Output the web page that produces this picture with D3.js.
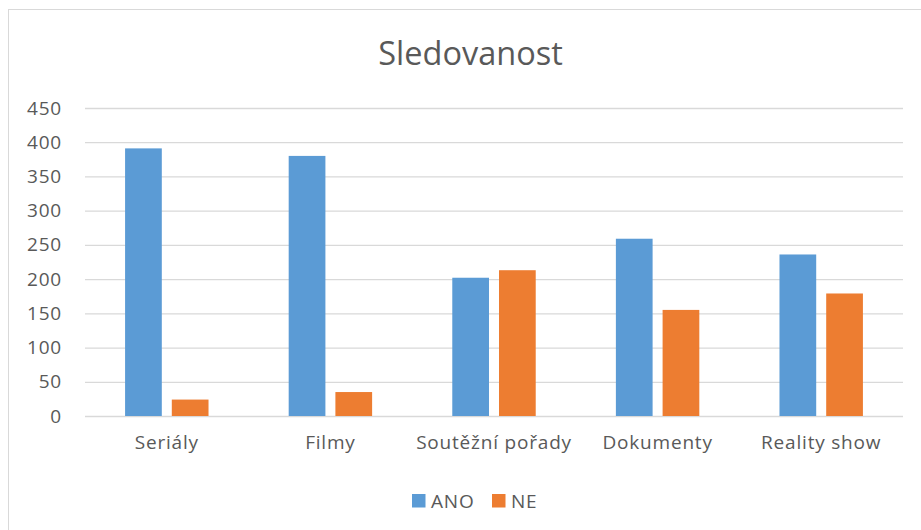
<!DOCTYPE html>
<html lang="cs">
<head>
    <meta charset="UTF-8">
    <title>Sledovanost</title>
    <script src="https://d3js.org/d3.v7.min.js"></script>
    <style>
        body {
            margin: 0;
            background: #fff;
        }

        svg text {
            font-family: "Open Sans", "DejaVu Sans", sans-serif;
            fill: #595959;
        }

        .lbl {
            font-size: 19px;
            letter-spacing: 0.8px;
        }
    </style>
</head>
<body>
    <div id="chart"></div>
    <script>
        const categories = ['Seriály', 'Filmy', 'Soutěžní pořady', 'Dokumenty', 'Reality show'];
        const seriesNames = ['ANO', 'NE'];
        const anoValues = [391, 380, 202, 259, 236];
        const neValues = [24, 35, 213, 155, 179];
        const yTicks = [0, 50, 100, 150, 200, 250, 300, 350, 400, 450];
        const colors = ['#5b9bd5', '#ed7d31'];

        const width = 921;
        const height = 530;
        const plot = { left: 85, right: 903, top: 108, bottom: 416 };

        const svg = d3.select('#chart')
            .append('svg')
            .attr('width', width)
            .attr('height', height);

        // outer chart border
        svg.append('rect')
            .attr('x', 8.5)
            .attr('y', 9.5)
            .attr('width', 930)
            .attr('height', 540)
            .attr('fill', '#fff')
            .attr('stroke', '#d9d9d9')
            .attr('stroke-width', 1);

        svg.append('text')
            .attr('x', 470.5)
            .attr('y', 65)
            .attr('text-anchor', 'middle')
            .style('font-size', '32.5px')
            .text('Sledovanost');

        const x0 = d3.scaleBand()
            .domain(categories)
            .range([plot.left, plot.right])
            .paddingInner(0.49)
            .paddingOuter(0.245);

        const x1 = d3.scaleBand()
            .domain(seriesNames)
            .range([0, x0.bandwidth()])
            .paddingInner(0.214);

        const y = d3.scaleLinear()
            .domain([0, 450])
            .range([plot.bottom, plot.top]);

        // gridlines
        const yAxis = svg.append('g')
            .attr('transform', `translate(${plot.left},0)`)
            .call(d3.axisLeft(y)
                .tickValues(yTicks)
                .tickSize(-(plot.right - plot.left))
                .tickPadding(23)
                .tickFormat(d3.format('d')));

        yAxis.select('.domain').remove();
        yAxis.selectAll('.tick line')
            .attr('stroke', '#d9d9d9')
            .attr('stroke-width', 1.3);
        yAxis.selectAll('.tick text')
            .attr('class', 'lbl')
            .attr('font-size', null)
            .attr('fill', '#595959');

        const data = categories.map((c, i) => ({
            category: c,
            values: [anoValues[i], neValues[i]]
        }));

        const groups = svg.selectAll('.group')
            .data(data)
            .enter().append('g')
            .attr('class', 'group')
            .attr('transform', d => `translate(${x0(d.category)},0)`);

        groups.selectAll('rect')
            .data(d => d.values.map((v, j) => ({ name: seriesNames[j], value: v, idx: j })))
            .enter().append('rect')
            .attr('x', d => x1(d.name))
            .attr('width', x1.bandwidth())
            .attr('y', d => y(d.value))
            .attr('height', d => y(0) - y(d.value))
            .attr('fill', d => colors[d.idx]);

        // category labels
        const xAxis = svg.append('g')
            .attr('transform', `translate(0,${plot.bottom})`)
            .call(d3.axisBottom(x0).tickSize(0).tickPadding(20));

        xAxis.select('.domain').remove();
        xAxis.selectAll('.tick text')
            .attr('class', 'lbl')
            .attr('fill', '#595959');

        // legend
        const legendItems = [
            { name: 'ANO', x: 412 },
            { name: 'NE', x: 492 }
        ];

        const legend = svg.append('g');
        legendItems.forEach((item, i) => {
            legend.append('rect')
                .attr('x', item.x)
                .attr('y', 494)
                .attr('width', 13.5)
                .attr('height', 13.5)
                .attr('fill', colors[i]);
            legend.append('text')
                .attr('class', 'lbl')
                .attr('x', item.x + 19)
                .attr('y', 507.5)
                .text(item.name);
        });
    </script>
</body>
</html>
